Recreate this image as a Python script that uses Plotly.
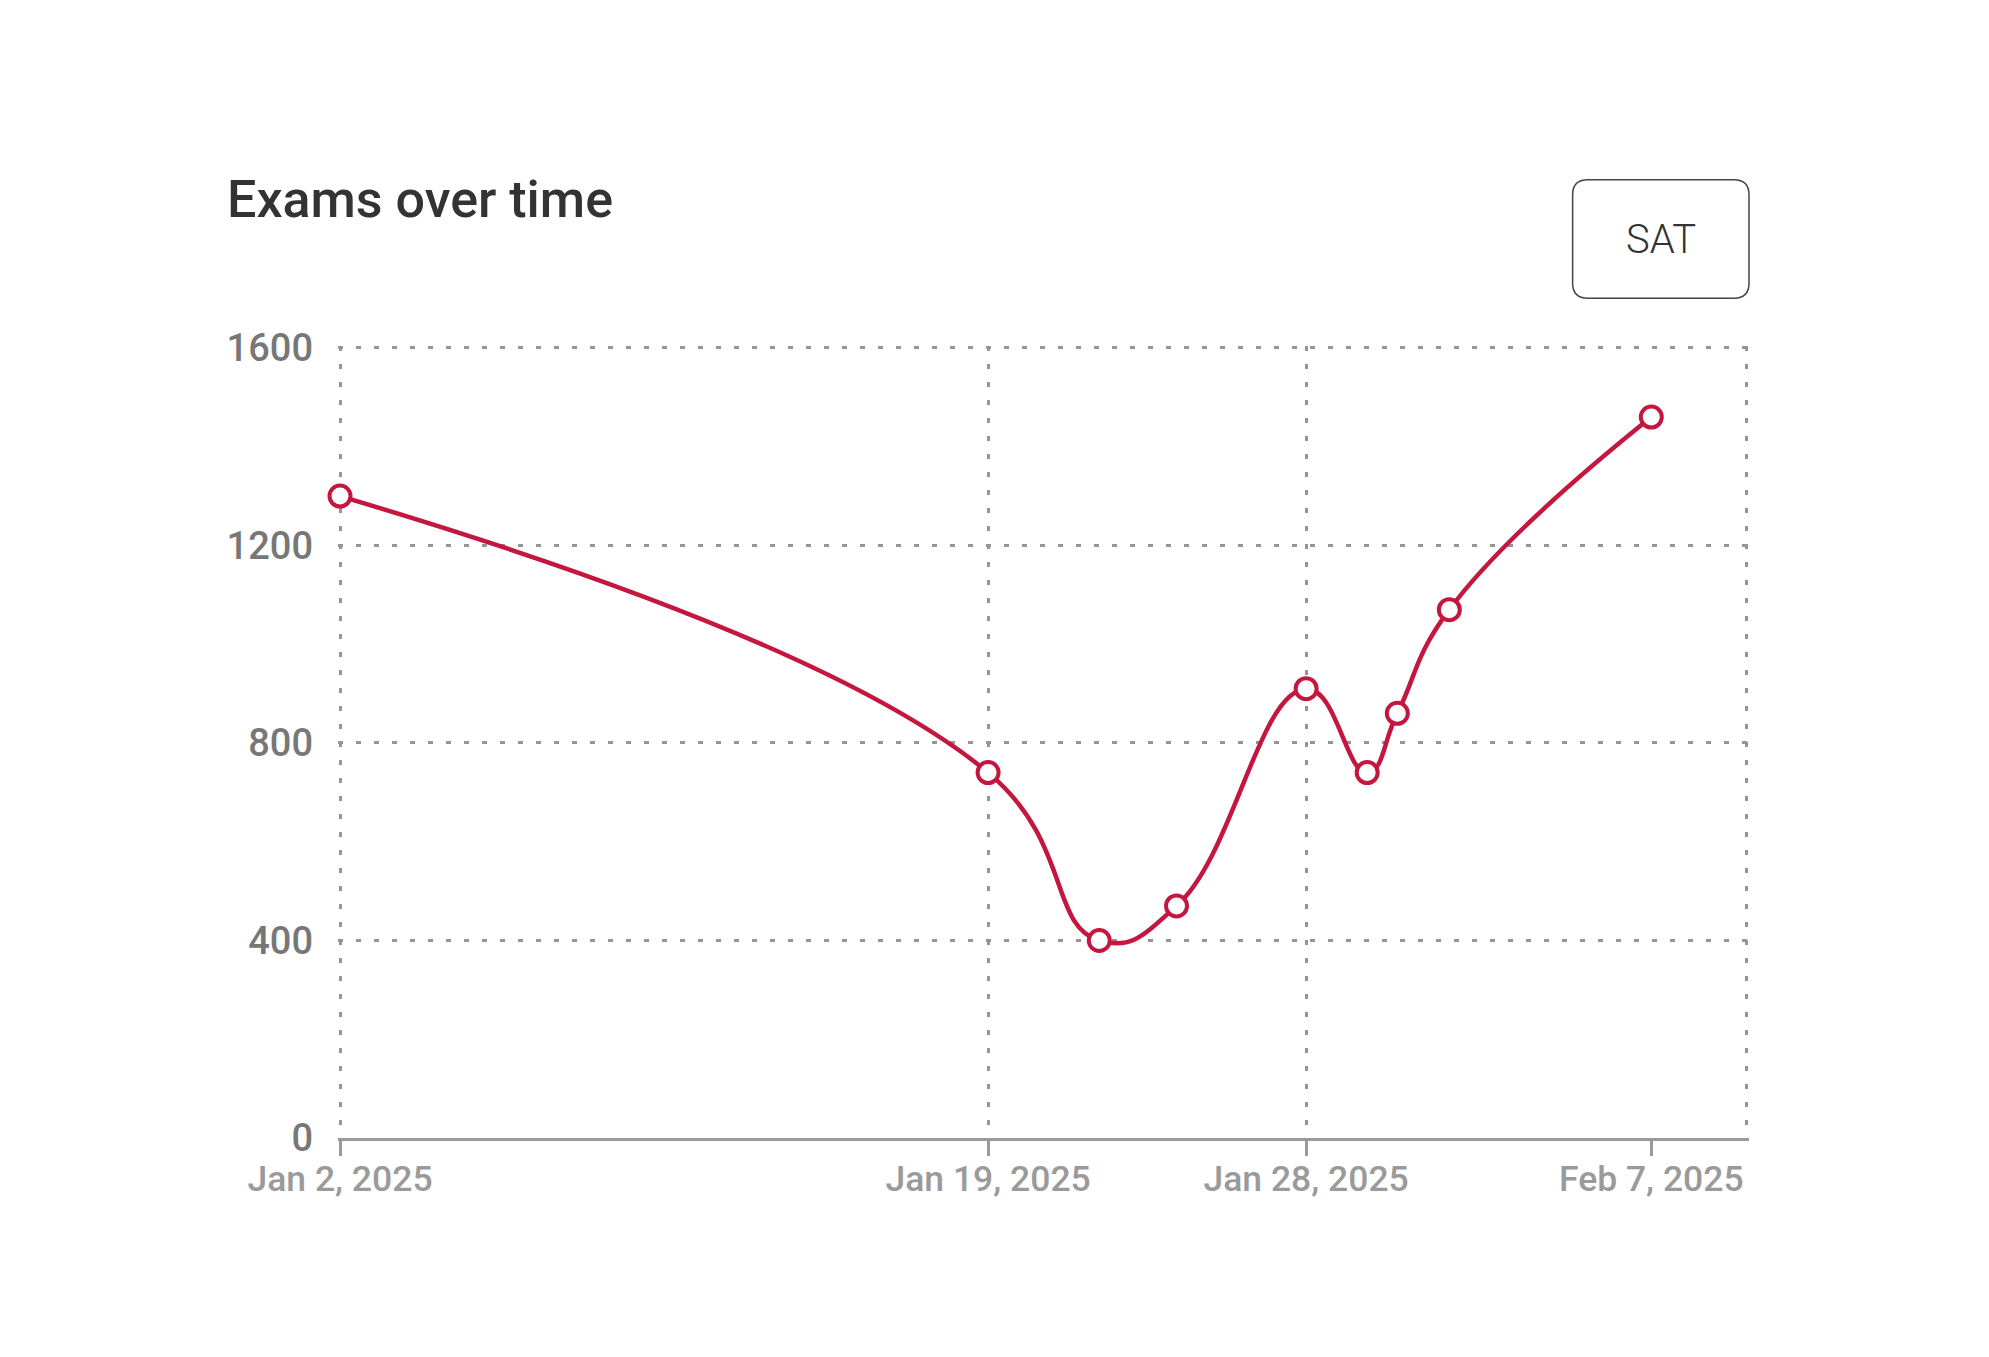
import plotly.graph_objects as go

# exam timestamps and scores
exam_dates = ["2025-01-02 00:00", "2025-01-19 22:00", "2025-01-22 23:45",
              "2025-01-25 03:00", "2025-01-28 17:00", "2025-01-30 09:30",
              "2025-01-31 05:30", "2025-02-01 16:00", "2025-02-07 06:00"]
scores = [1300, 740, 400, 470, 910, 740, 860, 1070, 1460]
exam_name = "SAT"
chart_title = "Exams over time"
y_ticks = [0, 400, 800, 1200, 1600]
labelled = [0, 1, 4, 8]      # exams that get a date label on the axis
grid_at = [0, 1, 4]          # exams that get a vertical grid line
x_end = "2025-02-09 21:30"   # right edge of the frame

RED = "#c4173f"
GRID = "#959595"
FONT = "Roboto"

fig = go.Figure()
fig.add_trace(go.Scatter(
    x=exam_dates, y=scores, mode="lines+markers", name=exam_name,
    line=dict(color=RED, width=4.5, shape="spline", smoothing=1.3),
    marker=dict(size=21, color="white", line=dict(color=RED, width=4)),
    cliponaxis=False, showlegend=False,
))
# invisible copy so the grid-only axis gets drawn
fig.add_trace(go.Scatter(
    x=exam_dates, y=scores, xaxis="x2", mode="lines",
    line=dict(width=0), hoverinfo="skip", showlegend=False,
))

# pad the range a hair so plotly keeps the edge grid lines
x_range = ["2025-01-01 22:40", "2025-02-09 22:50"]

fig.update_layout(
    width=1989, height=1357,
    margin=dict(l=330, r=248, t=338, b=227),
    plot_bgcolor="white", paper_bgcolor="white",
    font=dict(family=FONT),
    xaxis=dict(
        type="date", range=x_range,
        tickvals=[exam_dates[i] for i in labelled],
        tickformat="%b %-d, %Y",
        tickfont=dict(size=35.5, color="#9a9a9a", weight=500),
        ticks="outside", ticklen=15, tickwidth=2.5, tickcolor="#9a9a9a",
        ticklabelstandoff=-7,
        showline=True, linecolor="#9a9a9a", linewidth=2.5,
        showgrid=False, zeroline=False,
    ),
    xaxis2=dict(
        type="date", range=x_range, overlaying="x", side="bottom",
        tickvals=[exam_dates[i] for i in grid_at] + [x_end],
        showticklabels=False, ticks="", showline=False,
        showgrid=True, gridcolor=GRID, gridwidth=2.5, griddash="5px,13px",
        zeroline=False,
    ),
    yaxis=dict(
        range=[0, 1604], tickvals=y_ticks, tickformat="d",
        tickfont=dict(size=38, color="#777777", weight=500),
        ticklabelstandoff=24,
        showgrid=True, gridcolor=GRID, gridwidth=2.5, griddash="5px,13px",
        zeroline=False, showline=False, ticks="",
    ),
)

# title
fig.add_annotation(
    text=chart_title, xref="paper", yref="paper", x=-0.0803, y=1.1847,
    xanchor="left", yanchor="middle", showarrow=False,
    font=dict(family=FONT, size=52, color="#333333", weight=500),
)

# rounded selector box in the top right
x0, x1, y0, y1 = 0.875, 1.0, 1.0603, 1.2098
rx, ry = 0.0107, 0.0188
box = (f"M {x0+rx},{y1} L {x1-rx},{y1} Q {x1},{y1} {x1},{y1-ry} "
       f"L {x1},{y0+ry} Q {x1},{y0} {x1-rx},{y0} L {x0+rx},{y0} "
       f"Q {x0},{y0} {x0},{y0+ry} L {x0},{y1-ry} Q {x0},{y1} {x0+rx},{y1} Z")
fig.add_shape(type="path", path=box, xref="paper", yref="paper",
              line=dict(color="#444444", width=1.5), fillcolor="white")
fig.add_annotation(
    text=exam_name, xref="paper", yref="paper", x=(x0 + x1) / 2, y=(y0 + y1) / 2,
    xanchor="center", yanchor="middle", showarrow=False,
    font=dict(family=FONT, size=40, color="#333333", weight=300),
)

fig.write_html("out.html")
